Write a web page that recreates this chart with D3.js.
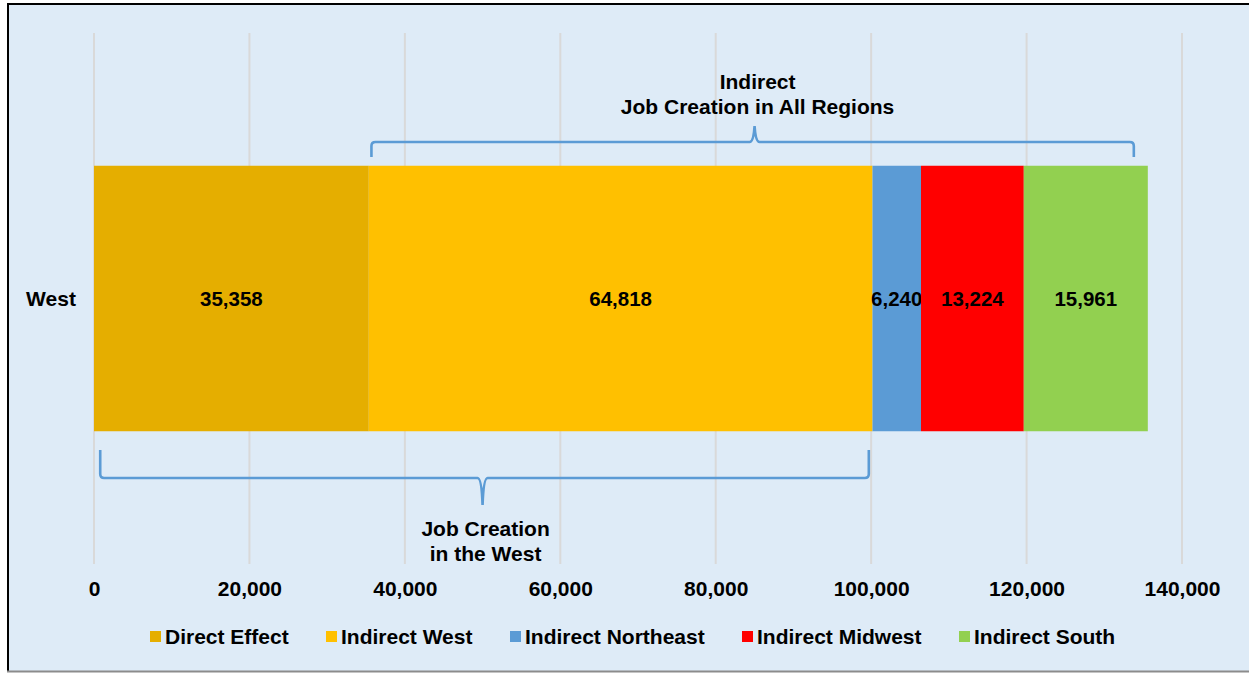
<!DOCTYPE html>
<html>
<head>
<meta charset="utf-8">
<script src="https://cdn.jsdelivr.net/npm/d3@7"></script>
<style>
  html, body { margin: 0; padding: 0; background: #ffffff; }
  svg { display: block; }
  text { font-family: "Liberation Sans", Arial, sans-serif; font-weight: bold; fill: #000; }
</style>
</head>
<body>
<svg id="chart" width="1249" height="673"></svg>
<script>
// ---- data ----
const categories = ["West"];
const seriesNames = ["Direct Effect", "Indirect West", "Indirect Northeast", "Indirect Midwest", "Indirect South"];
const seriesColors = ["#e5ae00", "#ffc000", "#5b9bd5", "#ff0000", "#92d050"];
const seriesValues = [35358, 64818, 6240, 13224, 15961];
const tickValues = [0, 20000, 40000, 60000, 80000, 100000, 120000, 140000];
const braceTopRange = [35700, 133800];
const braceTopTip = 85000;
const braceTopLabel = ["Indirect", "Job Creation in All Regions"];
const braceBottomRange = [800, 99700];
const braceBottomTip = 50000;
const braceBottomLabel = ["Job Creation", "in the West"];

// ---- layout ----
const svg = d3.select("#chart");
const W = 1249, H = 673;
const plot = { left: 94, right: 1182, top: 33, bottom: 564 };

// frame
svg.append("rect").attr("x", 9).attr("y", 5).attr("width", W - 9).attr("height", 666).attr("fill", "#deebf7");
svg.append("line").attr("x1", 7).attr("x2", W).attr("y1", 4).attr("y2", 4).attr("stroke", "#000").attr("stroke-width", 2);
svg.append("line").attr("x1", 8).attr("x2", 8).attr("y1", 3).attr("y2", 671).attr("stroke", "#000").attr("stroke-width", 2);
svg.append("line").attr("x1", 7).attr("x2", W).attr("y1", 671.5).attr("y2", 671.5).attr("stroke", "#8c8c8c").attr("stroke-width", 2);

const x = d3.scaleLinear().domain([0, 140000]).range([plot.left, plot.right]);
const y = d3.scaleBand().domain(categories).range([plot.top, plot.bottom]).paddingInner(0).paddingOuter(0.5);

// gridlines
svg.append("g").selectAll("line").data(tickValues).join("line")
  .attr("x1", d => x(d)).attr("x2", d => x(d))
  .attr("y1", plot.top).attr("y2", plot.bottom)
  .attr("stroke", "#d9d9d9").attr("stroke-width", 2);

// x axis labels
const fmt = d3.format(",");
const xAxis = d3.axisBottom(x).tickValues(tickValues).tickFormat(fmt).tickSize(0).tickPadding(0);
const gx = svg.append("g").attr("transform", `translate(0,${plot.bottom})`).call(xAxis);
gx.select(".domain").remove();
gx.selectAll("text").attr("font-size", 21).attr("font-family", null).attr("dy", null).attr("y", 32);

// y axis label
const yAxis = d3.axisLeft(y).tickSize(0).tickPadding(0);
const gy = svg.append("g").attr("transform", `translate(${plot.left},0)`).call(yAxis);
gy.select(".domain").remove();
gy.selectAll("text").attr("font-size", 21).attr("font-family", null).attr("text-anchor", "middle").attr("x", -43).attr("dy", "0.35em");

// stacked bars
const row = {};
seriesNames.forEach((s, i) => row[s] = seriesValues[i]);
const stacked = d3.stack().keys(seriesNames)([Object.assign({ cat: categories[0] }, row)]);
const gBars = svg.append("g");
stacked.forEach((layer, i) => {
  layer.forEach(seg => {
    gBars.append("rect")
      .attr("x", x(seg[0])).attr("width", x(seg[1]) - x(seg[0]))
      .attr("y", y(seg.data.cat)).attr("height", y.bandwidth())
      .attr("fill", seriesColors[i]);
    gBars.append("text")
      .attr("x", (x(seg[0]) + x(seg[1])) / 2)
      .attr("y", y(seg.data.cat) + y.bandwidth() / 2)
      .attr("dy", "0.35em")
      .attr("text-anchor", "middle")
      .attr("font-size", 20.5)
      .text(fmt(seriesValues[i]));
  });
});

// braces
function bracePath(x0, x1, xt, yEnd, yLine, yTip) {
  const dir = Math.sign(yTip - yLine); // direction of tip
  const r = 4;
  return `M${x0},${yEnd} L${x0},${yLine - dir * r} Q${x0},${yLine} ${x0 + r},${yLine}` +
    ` L${xt - 5},${yLine} Q${xt - 1},${yLine} ${xt},${yTip}` +
    ` Q${xt + 1},${yLine} ${xt + 5},${yLine}` +
    ` L${x1 - r},${yLine} Q${x1},${yLine} ${x1},${yLine - dir * r} L${x1},${yEnd}`;
}
svg.append("path")
  .attr("d", bracePath(x(braceTopRange[0]), x(braceTopRange[1]), x(braceTopTip), 157, 142, 126))
  .attr("fill", "none").attr("stroke", "#5b9bd5").attr("stroke-width", 2.6);
svg.append("path")
  .attr("d", bracePath(x(braceBottomRange[0]), x(braceBottomRange[1]), x(braceBottomTip), 450, 478, 505))
  .attr("fill", "none").attr("stroke", "#5b9bd5").attr("stroke-width", 2.6);

svg.append("g").selectAll("text").data(braceTopLabel).join("text")
  .attr("x", x(braceTopTip) + 3).attr("y", (d, i) => 89 + i * 25)
  .attr("text-anchor", "middle").attr("font-size", 21).text(d => d);
svg.append("g").selectAll("text").data(braceBottomLabel).join("text")
  .attr("x", x(braceBottomTip) + 3).attr("y", (d, i) => 536 + i * 25)
  .attr("text-anchor", "middle").attr("font-size", 21).text(d => d);

// legend
const legendX = [150, 326, 510, 742, 959];
const gLeg = svg.append("g");
seriesNames.forEach((s, i) => {
  gLeg.append("rect").attr("x", legendX[i]).attr("y", 631).attr("width", 11).attr("height", 11).attr("fill", seriesColors[i]);
  gLeg.append("text").attr("x", legendX[i] + 15).attr("y", 644).attr("font-size", 21).text(s);
});
</script>
</body>
</html>
